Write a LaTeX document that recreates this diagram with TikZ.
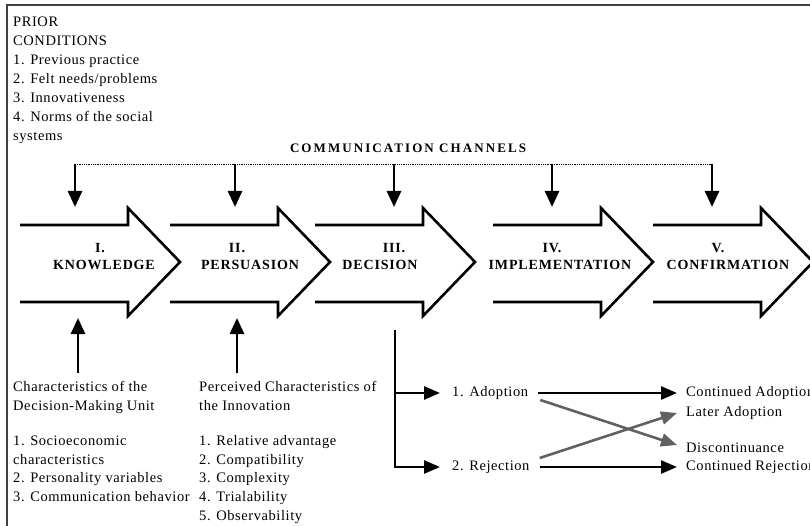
\documentclass[tikz,border=0pt]{standalone}
\usepackage{fontspec}
\setmainfont{Liberation Serif}
\usetikzlibrary{arrows.meta, positioning}

\tikzset{
  txt/.style={inner sep=0pt, font=\fontsize{14.5}{18.6}\selectfont\addfontfeature{LetterSpace=4}},
  blocktxt/.style={txt, align=left, anchor=north west},
  stagetxt/.style={inner sep=0pt, font=\bfseries\fontsize{14}{16}\selectfont\addfontfeature{LetterSpace=6}},
  channeltxt/.style={inner sep=0pt, font=\bfseries\fontsize{13}{15}\selectfont\addfontfeature{LetterSpace=16}},
  bigarrow/.style={line width=2.6pt, line join=miter},
  pointer/.style={line width=2.8pt, -{Triangle[length=16pt,width=14pt]}},
  branch/.style={line width=2.6pt, -{Triangle[length=16pt,width=13pt]}},
  grayline/.style={branch, draw=black!62},
}

\begin{document}
\begin{tikzpicture}[x=1pt, y=-1pt]
  \clip (0,0) rectangle (810,526);
  \draw[line width=1.2pt, black!75] (7,530) -- (7,5) -- (815,5);

  % prior conditions
  \node[blocktxt, font=\fontsize{14.5}{19}\selectfont\addfontfeature{LetterSpace=4}] (prior) at (13,17)
    {PRIOR\\CONDITIONS\\1. Previous practice\\2. Felt needs/problems\\3. Innovativeness\\4. Norms of the social\\systems};

  % communication channels
  \node[channeltxt] (comm) at (408,148) {COMMUNICATION CHANNELS};
  \foreach \i/\x in {1/75,2/235,3/394,4/552,5/712}
    \coordinate (ch\i) at (\x,164);
  \draw[densely dotted, line width=0.8pt] (ch1) -- (ch5);
  \foreach \i in {1,...,5}
    \draw[pointer] (ch\i) -- ++(0,43);

  % the five stages
  \foreach \x in {20,170,315,493,653}
    \draw[bigarrow] (\x,225) -- ++(108,0) -- ++(0,-17) -- ++(52,54) -- ++(-52,54) -- ++(0,-14) -- ++(-108,0);
  \foreach \i/\a/\b/\num/\name in {1/100/104/I./KNOWLEDGE, 2/237/250/II./PERSUASION,
      3/394/380/III./DECISION, 4/552/560/IV./IMPLEMENTATION, 5/718/728/V./CONFIRMATION}{
    \node[stagetxt] (num\i) at (\a,248) {\num};
    \node[stagetxt] (stage\i) at (\b,265) {\name};
  }

  % characteristics
  \node[blocktxt] (unit) at (13,381)
    {Characteristics of the\\Decision-Making Unit\\[17pt]1. Socioeconomic\\characteristics\\2. Personality variables\\3. Communication behavior};
  \node[blocktxt] (innov) at (199,381)
    {Perceived Characteristics of\\the Innovation\\[17pt]1. Relative advantage\\2. Compatibility\\3. Complexity\\4. Trialability\\5. Observability};
  \coordinate (up1) at (78,373);
  \coordinate (up2) at (237,373);
  \draw[pointer] (up1) -- ++(0,-55);
  \draw[pointer] (up2) -- ++(0,-55);

  % decision outcomes
  \coordinate (br) at (395,330);
  \node[txt, anchor=west] (adopt) at (452,393) {1. Adoption};
  \node[txt, anchor=west] (reject) at (452,467) {2. Rejection};
  \draw[branch] (br) -- (br |- reject) -- ([xshift=-12pt]reject.west);
  \draw[branch] (br |- adopt) -- ([xshift=-12pt]adopt.west);

  \node[txt, anchor=west] (contadopt) at (686,393) {Continued Adoption};
  \node[txt, anchor=west] (later) at (686,413) {Later Adoption};
  \node[txt, anchor=west] (discont) at (686,448) {Discontinuance};
  \node[txt, anchor=west] (contreject) at (686,467) {Continued Rejection};
  \draw[branch] ([xshift=10pt]adopt.east) -- ([xshift=-9pt]contadopt.west);
  \draw[branch] ([xshift=10pt]reject.east) -- ([xshift=-9pt]contreject.west);
  \draw[grayline] ([xshift=12pt,yshift=-7pt]adopt.east) -- ([xshift=-9pt,yshift=3pt]discont.west);
  \draw[grayline] ([xshift=10pt,yshift=9pt]reject.east) -- ([xshift=-9pt]later.west);
\end{tikzpicture}
\end{document}
